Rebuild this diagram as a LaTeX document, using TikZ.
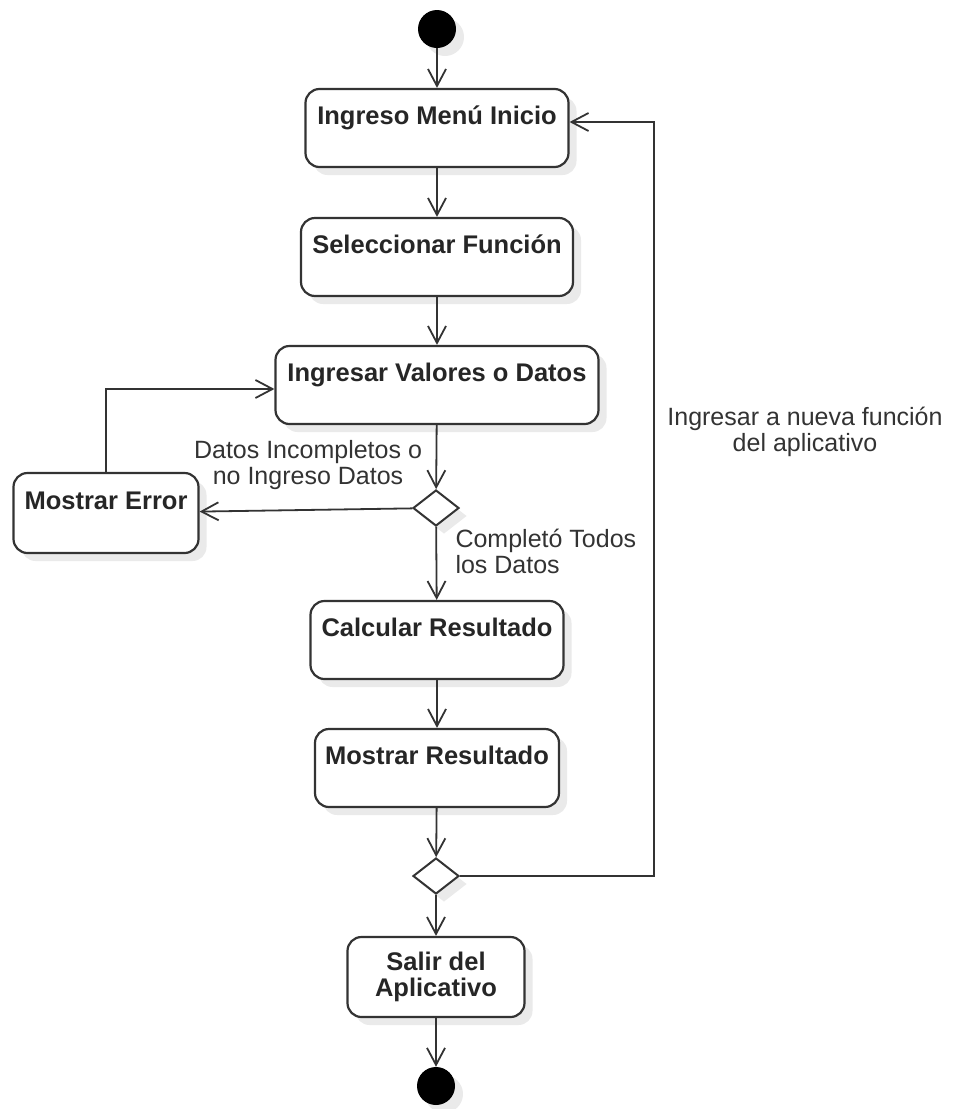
\documentclass[tikz,border=0pt]{standalone}
\usepackage{fontspec}
\setmainfont{Liberation Sans}
\usetikzlibrary{arrows.meta,shapes.geometric,shadows}
\definecolor{ink}{HTML}{333333}
\definecolor{shade}{HTML}{EAEAEA}

\begin{document}
\begin{tikzpicture}[x=1pt,y=-1pt,>={Straight Barb[length=17pt,width=18pt]},
  shade/.style={drop shadow={shadow xshift=8pt,shadow yshift=-8pt,fill=shade,opacity=1}},
  box/.style={draw=ink,line width=2.2pt,rounded corners=14pt,fill=white,shade,
    font=\fontsize{25.5}{26}\selectfont\bfseries,text=black!85,minimum height=78pt},
  act/.style={box,inner ysep=0pt,text height=35pt,text depth=43pt},
  dot/.style={circle,fill=black,inner sep=0pt,minimum size=38pt,shade},
  choice/.style={diamond,draw=ink,line width=2pt,fill=white,inner sep=0pt,
    minimum width=46pt,minimum height=36pt,shade},
  flow/.style={->,draw=ink,line width=1.8pt},
  lbl/.style={font=\fontsize{25}{26}\selectfont,text=ink}]
\useasboundingbox (0,0) rectangle (953,1109);
% start and main column
\node[dot] (start) at (437,29) {};
\node[act,minimum width=263pt] (menu) at (437,128) {Ingreso Menú Inicio};
\node[act,minimum width=272pt] (sel) at (437,257) {Seleccionar Función};
\node[act,minimum width=323pt] (datos) at (437,385) {Ingresar Valores o Datos};
\node[choice] (d1) at (436,508) {};
\node[act,minimum width=185pt,minimum height=80pt,text height=36pt,text depth=44pt] (err) at (106,513) {Mostrar Error};
\node[act,minimum width=253pt] (calc) at (437,640) {Calcular Resultado};
\node[act,minimum width=244pt] (res) at (437,768) {Mostrar Resultado};
\node[choice] (d2) at (436,876) {};
\node[box,align=center,minimum width=177pt,minimum height=80pt] (salir) at (436,977) {Salir del\\Aplicativo};
\node[dot] (end) at (436,1086) {};
% connectors
\draw[flow] (start) -- (menu);
\draw[flow] (menu) -- (sel);
\draw[flow] (sel) -- (datos);
\draw[flow] (datos) -- (d1);
\draw[flow] (d1) -- (err);
\draw[flow] (err.north) |- ([yshift=-4pt]datos.west);
\draw[flow] (d1) -- (calc);
\draw[flow] (calc) -- (res);
\draw[flow] (res) -- (d2);
\draw[flow] (d2) -- (salir);
\draw[flow] (salir) -- (end);
\coordinate (ret) at (654,122);
\draw[flow] (d2.east) -| (ret) -- (menu.east |- ret);
% guard labels
\node[lbl,align=center] (noOk) at (308,465) {Datos Incompletos o\\no Ingreso Datos};
\node[lbl,align=left,anchor=west] (ok) at (452,551) {Completó Todos\\los Datos};
\node[lbl,align=center] (again) at (805,432) {Ingresar a nueva función\\del aplicativo};
\end{tikzpicture}
\end{document}
